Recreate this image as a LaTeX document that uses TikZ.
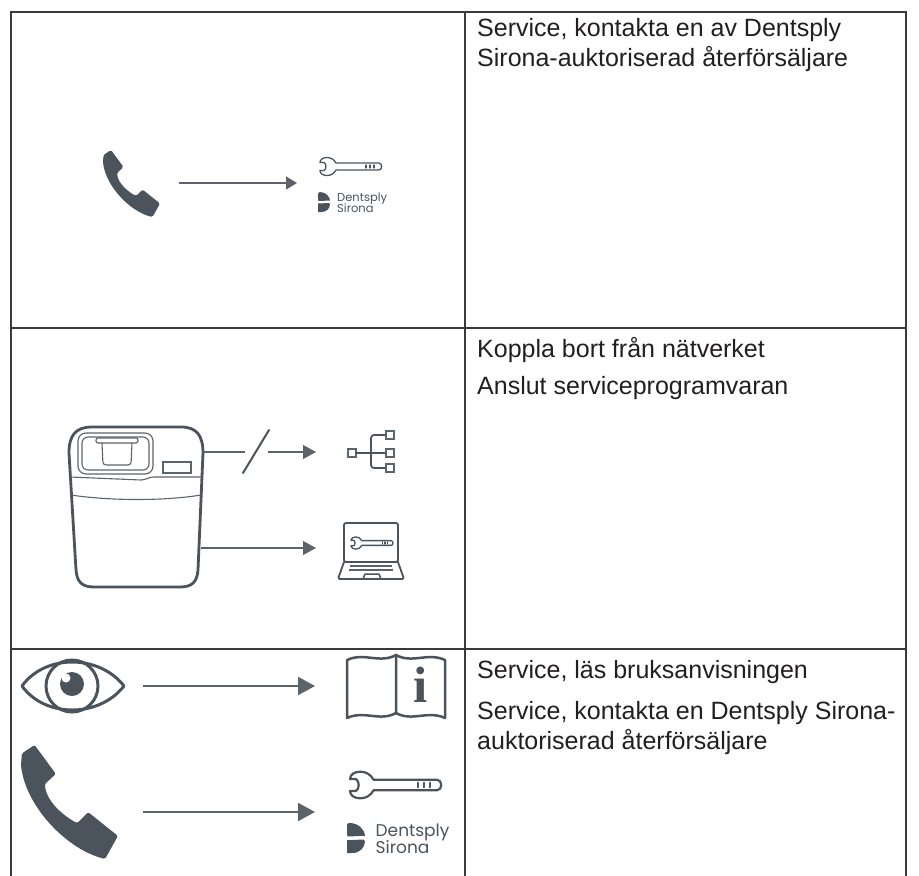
\documentclass[tikz,border=0pt]{standalone}
\usepackage{fontspec}
\setmainfont{Liberation Sans}
\newfontfamily\logofont{Poppins}
\newfontfamily\serifface{Liberation Serif}
\usetikzlibrary{arrows.meta}

\definecolor{ink}{HTML}{231F20}
\definecolor{icon}{HTML}{4B545C}
\definecolor{iconlight}{HTML}{5C646B}
\definecolor{rule}{HTML}{3A3A3A}

\tikzset{
  tablerule/.style={draw=rule, line width=1.3pt},
  celltext/.style={anchor=base west, inner sep=0pt, text=ink,
    font=\fontsize{25}{30}\selectfont},
  arrsmall/.style={draw=iconlight, line width=1.4pt,
    -{Triangle[length=11pt,width=13pt]}},
  arrmid/.style={draw=iconlight, line width=1.5pt,
    -{Triangle[length=13pt,width=14pt]}},
  arrbig/.style={draw=iconlight, line width=2.2pt,
    -{Triangle[length=17pt,width=18pt]}},
  thinline/.style={draw=iconlight, line width=1.1pt},
  iconline/.style={draw=icon, line join=round, line cap=round},
  logotext/.style={anchor=base west, inner sep=0pt, text=icon},
}

% telephone handset: x, y of top-left corner, scale
\newcommand{\handsetIcon}[3]{%
  \begin{scope}[shift={(#1,#2)}, scale=#3]
    \fill[icon, rounded corners=1.5pt]
      (0.5,5) -- (8,0) -- (20.5,17) -- (14,23)
      .. controls (15,33) and (24,41) .. (33,46)
      -- (39.5,39.5) -- (57,53.5) -- (49.5,67)
      .. controls (28,62) and (3,37) .. (0,12) -- cycle;
  \end{scope}}

% spanner with three ticks: x, y of left middle, scale, line width
\newcommand{\wrenchIcon}[4]{%
  \begin{scope}[shift={(#1,#2)}, scale=#3]
    \draw[iconline, line width=#4]
      (0,-4) .. controls (0,-7) and (3,-9) .. (7,-9)
      .. controls (11,-9) and (14,-7) .. (16,-3.5)
      -- (59,-3.5) .. controls (62.5,-3.5) and (62.5,3.5) .. (59,3.5)
      -- (16,3.5) .. controls (14,7) and (11,9) .. (7,9)
      .. controls (3,9) and (0,7) .. (0,4)
      -- (4,4) .. controls (6.5,3) and (6.5,-3) .. (4,-4) -- cycle;
    \foreach \tx in {46,50,54}
      \draw[iconline, line width=#4] (\tx,-1.5) -- (\tx,1.5);
  \end{scope}}

% brand mark with name: x, y of top-left, scale, font size, node prefix
\newcommand{\dsLogo}[5]{%
  \begin{scope}[shift={(#1,#2)}, scale=#3]
    \fill[icon] (0,1.5) .. controls (0,0.5) and (0.5,0) .. (1.5,0)
      .. controls (7,0) and (11.5,3.5) .. (12,8.5)
      -- (1,9) .. controls (0.4,9) and (0,8.6) .. (0,8) -- cycle;
    \fill[icon] (0,11.5) -- (11,11) .. controls (11.6,11) and (12,11.4) .. (12,12)
      .. controls (12,16.5) and (8.5,20) .. (3.5,20) -- (0,20) -- cycle;
    \node[logotext, font=\logofont\fontsize{#4}{#4}\selectfont] (#5a) at (19,9) {Dentsply};
    \node[logotext, font=\logofont\fontsize{#4}{#4}\selectfont] (#5b) at (19,20) {Sirona};
  \end{scope}}

\begin{document}
\begin{tikzpicture}[x=1pt, y=-1pt]
  \fill[white] (0,0) rectangle (919,876);
  \useasboundingbox (0,0) rectangle (919,876);

  % table rules
  \draw[tablerule] (11,876) -- (11,12) -- (906,12) -- (906,876);
  \draw[tablerule] (465,12) -- (465,876);
  \draw[tablerule] (11,328) -- (906,328);
  \draw[tablerule] (11,649) -- (906,649);

  % ---------- row 1: call the dealer ----------
  \handsetIcon{103}{150}{1}
  \coordinate (callA) at (179,183);
  \coordinate (svcA) at (297,183);
  \draw[arrsmall] (callA) -- (svcA);
  \wrenchIcon{320}{166.5}{1}{1.3pt}
  \dsLogo{318}{192}{1}{11.5}{logoA}

  \node[celltext] (t1a) at (477,36) {Service, kontakta en av Dentsply};
  \node[celltext] (t1b) at (477,66) {Sirona-auktoriserad återförsäljare};

  % ---------- row 2: unit, network, service laptop ----------
  % housing
  \draw[iconline, line width=2.8pt]
    (92,427) -- (181,427) .. controls (197,427) and (203,436) .. (203,453)
    -- (198,570) .. controls (197,582) and (192,587) .. (180,587)
    -- (94,587) .. controls (82,587) and (77,582) .. (76,570)
    -- (69,453) .. controls (69,436) and (75,427) .. (92,427) -- cycle;
  % lid band
  \draw[thinline] (70,477) -- (141,480) .. controls (146,480) and (148,477) .. (154,477) -- (202,477);
  \draw[thinline] (71,495) .. controls (110,501) and (165,501) .. (201,495);
  % recess with cup
  \draw[thinline, rounded corners=8pt] (78,433) rectangle (153,474);
  \draw[thinline, rounded corners=6pt] (82,437) rectangle (149,470);
  \draw[thinline, rounded corners=2pt] (96,438) rectangle (138,443);
  \draw[thinline, rounded corners=3pt] (102,443) -- (103,465) -- (131,465) -- (132,443);
  % display window
  \draw[thinline] (163,462) rectangle (191,473);

  % cut network connection
  \coordinate (unitNet) at (203,452);
  \coordinate (cutL) at (245,452);
  \coordinate (cutR) at (268,452);
  \coordinate (netIn) at (316,452);
  \draw[draw=iconlight, line width=1.5pt] (unitNet) -- (cutL);
  \draw[iconline, line width=2pt] (243,473) -- (269,430);
  \draw[arrmid] (cutR) -- (netIn);

  % network tree
  \draw[thinline] (348,449) rectangle (356,457);
  \draw[iconline, line width=1.8pt] (356,453) -- (386,453);
  \draw[iconline, line width=1.8pt, rounded corners=3pt] (386,435) -- (371,435) -- (371,468) -- (386,468);
  \draw[thinline] (386,431) rectangle (394,439);
  \draw[thinline] (386,449) rectangle (394,457);
  \draw[thinline] (386,464) rectangle (394,472);

  % service laptop connection
  \coordinate (unitSvc) at (201,548);
  \coordinate (laptopIn) at (316,548);
  \draw[arrmid] (unitSvc) -- (laptopIn);

  % laptop
  \draw[iconline, line width=1.8pt, rounded corners=2pt] (344,523) rectangle (398,562);
  \draw[iconline, line width=1.8pt, rounded corners=1.5pt] (344,562) -- (338,579) -- (404,579) -- (398,562);
  \draw[thinline] (350,566) -- (392,566);
  \draw[thinline] (349,570) -- (393,570);
  \draw[iconline, line width=1.5pt] (363,579) -- (365,574) -- (379,574) -- (381,579);
  \wrenchIcon{351}{543}{0.68}{1.3pt}

  \node[celltext] (t2a) at (477,357) {Koppla bort från nätverket};
  \node[celltext] (t2b) at (477,394) {Anslut serviceprogramvaran};

  % ---------- row 3: read manual, call the dealer ----------
  % eye
  \draw[iconline, line width=3pt]
    (22,686) .. controls (45,654) and (99,654) .. (124,686)
    .. controls (99,718) and (45,718) .. (22,686) -- cycle;
  \draw[iconline, line width=3pt] (72,686) circle[radius=26];
  \fill[icon] (72,684) circle[radius=12];
  \fill[white] (66,678) circle[radius=4.5];

  \coordinate (eyeOut) at (143,686);
  \coordinate (bookIn) at (315,686);
  \draw[arrbig] (eyeOut) -- (bookIn);

  % manual
  \draw[iconline, line width=2.5pt]
    (347,660) .. controls (364,652) and (380,664) .. (396,655)
    -- (396,713) .. controls (380,722) and (364,710) .. (347,718) -- cycle;
  \draw[iconline, line width=2.5pt]
    (396,655) .. controls (412,664) and (428,652) .. (445,660)
    -- (445,718) .. controls (428,710) and (412,722) .. (396,713);
  \node[inner sep=0pt, text=icon, font=\serifface\bfseries\fontsize{51}{51}\selectfont]
    (info) at (421,685) {i};

  % second handset
  \handsetIcon{21}{745}{1.7}
  \coordinate (callB) at (143,812);
  \coordinate (svcB) at (315,812);
  \draw[arrbig] (callB) -- (svcB);
  \wrenchIcon{350}{785}{1.48}{2.2pt}
  \dsLogo{347}{823}{1.5}{17}{logoB}

  \node[celltext] (t3a) at (477,678) {Service, läs bruksanvisningen};
  \node[celltext] (t3b) at (477,719) {Service, kontakta en Dentsply Sirona-};
  \node[celltext] (t3c) at (477,749) {auktoriserad återförsäljare};
\end{tikzpicture}
\end{document}
